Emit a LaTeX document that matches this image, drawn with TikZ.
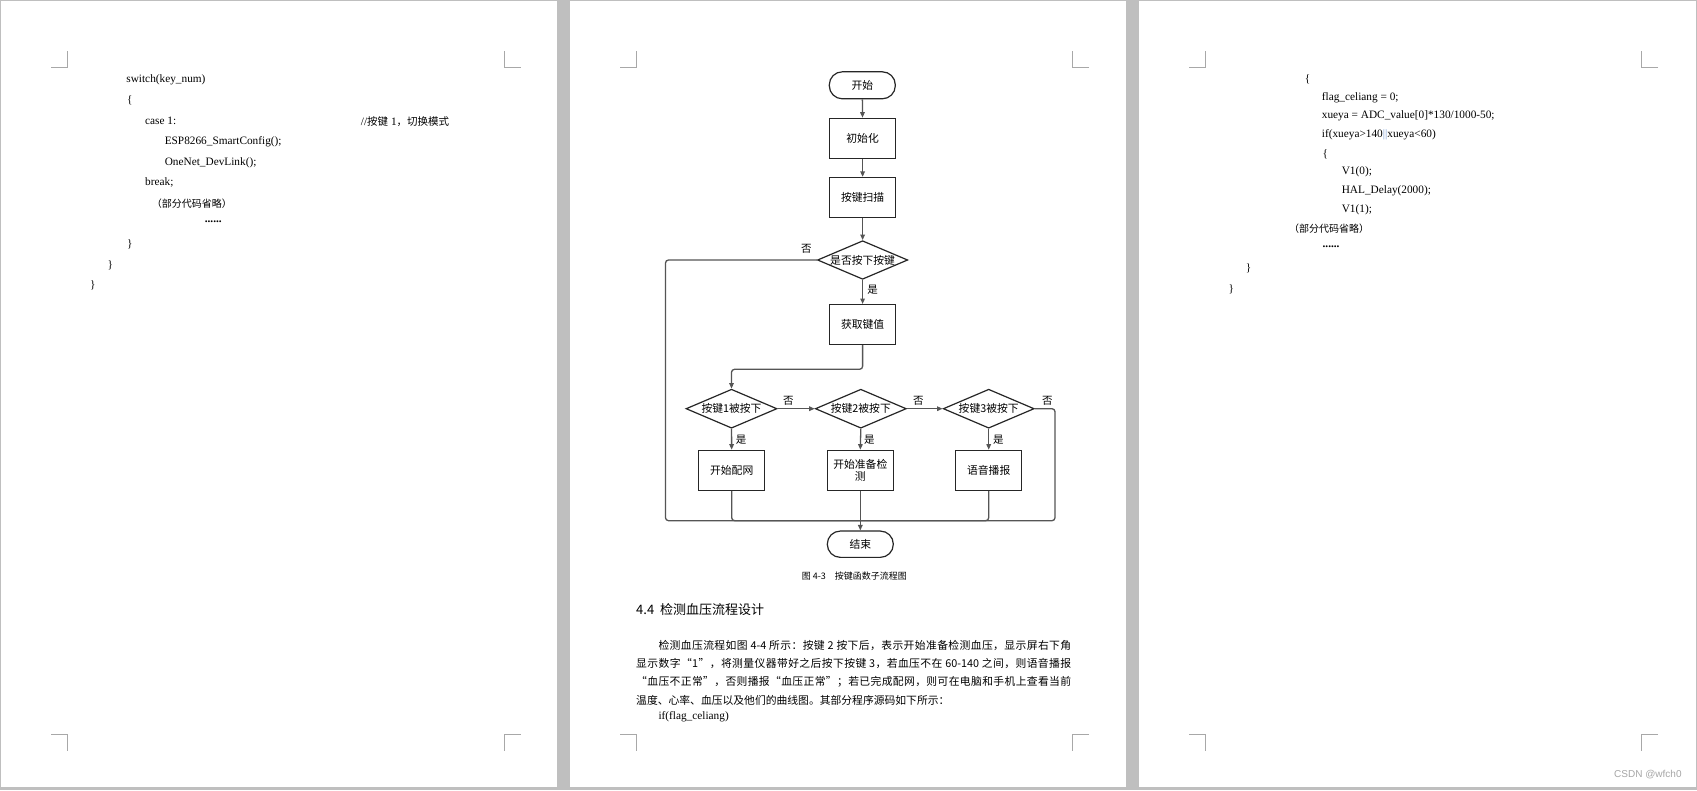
\documentclass[tikz,border=0pt]{standalone}
\usepackage{fontspec}
\setmainfont{Liberation Serif}
\newfontfamily\cjk{Noto Sans CJK SC}
\newfontfamily\wmfont{Liberation Sans}
\usetikzlibrary{shapes.geometric,arrows.meta}
\makeatletter
\count@="3000
\loop
  \XeTeXcharclass\count@=7
  \advance\count@ by 1
\ifnum\count@<"A000 \repeat
\count@="FF00
\loop
  \XeTeXcharclass\count@=7
  \advance\count@ by 1
\ifnum\count@<"FFF0 \repeat
\makeatother
\XeTeXcharclass"201C=7
\XeTeXcharclass"201D=7
\XeTeXinterchartoks 7 7 = {\hskip 0pt plus 1pt\relax}
\XeTeXinterchartoks 0 7 = {\hskip 0pt plus 1pt\relax}
\XeTeXinterchartoks 7 0 = {\hskip 0pt plus 1pt\relax}
\newcommand\mystretchon{\XeTeXinterchartokenstate=1\relax}
\definecolor{bggray}{HTML}{BFBFBF}
\definecolor{markgray}{HTML}{A8A8A8}
\definecolor{linegray}{HTML}{555555}
\definecolor{boxc}{HTML}{262626}
\definecolor{wmgray}{HTML}{A6A6A6}
\definecolor{selblue}{HTML}{7A9FD6}
\tikzset{
  cornermark/.style={draw=markgray, line width=0.8pt},
  codetxt/.style={anchor=west, inner sep=0pt, font=\fontsize{11.3}{13}\selectfont},
  codedots/.style={anchor=base west, inner sep=0pt, font=\bfseries\fontsize{11.3}{13}\selectfont},
  codecn/.style={anchor=west, inner sep=0pt, font=\cjk\fontsize{10}{12}\selectfont},
  paratxt/.style={anchor=west, inner sep=0pt, font=\cjk\fontsize{10.8}{13}\selectfont\mystretchon},
  proc/.style={draw=boxc, line width=1.2pt, minimum width=66pt, minimum height=40pt, inner sep=1pt,
    font=\cjk\fontsize{10.8}{12}\selectfont, align=center},
  term/.style={draw=boxc, line width=1.2pt, rounded corners=13pt, minimum width=66pt, minimum height=27pt,
    inner sep=1pt, font=\cjk\fontsize{10.8}{12}\selectfont},
  dec/.style={diamond, draw=boxc, line width=1.2pt, inner sep=0pt, minimum width=91pt, minimum height=39pt},
  declbl/.style={font=\cjk\fontsize{10.8}{12}\selectfont, inner sep=0pt},
  lbl/.style={font=\cjk\fontsize{10.5}{12}\selectfont, inner sep=0pt},
  conn/.style={draw=linegray, line width=1.3pt, rounded corners=3pt},
  arr/.style={conn, -{Triangle[length=5.5pt,width=4.5pt]}},
}
\begin{document}
\begin{tikzpicture}[x=1pt,y=-1pt]
\useasboundingbox (0,0) rectangle (1697,790);
\fill[bggray] (0,0) rectangle (1697,790);
\fill[white] (1,1) rectangle (557.3,787);
\fill[white] (570,1) rectangle (1126,787);
\fill[white] (1139,1) rectangle (1696,787);
% corner marks
\foreach \l/\r in {67.5/504.3, 636.8/1072.6, 1205.6/1641.6} {
  \draw[cornermark] (\l-16.5,67.5) -- (\l,67.5) -- (\l,51);
  \draw[cornermark] (\r+16.5,67.5) -- (\r,67.5) -- (\r,51);
  \draw[cornermark] (\l-16.5,734.3) -- (\l,734.3) -- (\l,751);
  \draw[cornermark] (\r+16.5,734.3) -- (\r,734.3) -- (\r,751);
}
% ---------- page 1 code ----------
\node[codetxt] (p1a) at (126.2,79.3) {switch(key\_num)};
\node[codetxt] (p1b) at (126.9,100.7) {\{};
\node[codetxt] (p1c) at (145,121.3) {case 1:};
\node[codetxt] (p1d) at (360.7,121.3) {//{\cjk\fontsize{10.5}{12}\selectfont 按键} 1{\cjk\fontsize{10.5}{12}\selectfont ，切换模式}};
\node[codetxt] (p1e) at (164.6,141.7) {ESP8266\_SmartConfig();};
\node[codetxt] (p1f) at (164.6,162.3) {OneNet\_DevLink();};
\node[codetxt] (p1g) at (145,182.3) {break;};
\node[codecn] (p1h) at (151.7,203.9) {（部分代码省略）};
\node[codedots] (p1i) at (204.6,222.5) {......};
\node[codetxt] (p1j) at (126.9,244.3) {\}};
\node[codetxt] (p1k) at (107.3,265) {\}};
\node[codetxt] (p1l) at (89.9,285.7) {\}};
% ---------- page 3 code ----------
\node[codetxt] (p3a) at (1304.7,79.3) {\{};
\node[codetxt] (p3b) at (1321.7,97.7) {flag\_celiang = 0;};
\node[codetxt] (p3c) at (1321.7,116) {xueya = ADC\_value[0]*130/1000-50;};
\node[codetxt] (p3d) at (1321.7,135) {if(xueya>140\textcolor{selblue}{||}xueya<60)};
\node[codetxt] (p3e) at (1322.5,154) {\{};
\node[codetxt] (p3f) at (1341.6,171.7) {V1(0);};
\node[codetxt] (p3g) at (1341.6,190.7) {HAL\_Delay(2000);};
\node[codetxt] (p3h) at (1341.6,210) {V1(1);};
\node[codecn] (p3i) at (1289,228.9) {（部分代码省略）};
\node[codedots] (p3j) at (1322.4,247.5) {......};
\node[codetxt] (p3k) at (1245.7,268.7) {\}};
\node[codetxt] (p3l) at (1228.4,289.3) {\}};
% ---------- page 2 flowchart ----------
\node[term] (st) at (862.3,85.3) {开始};
\node[proc] (init) at (862.6,138.3) {初始化};
\node[proc] (scan) at (862.6,197.5) {按键扫描};
\node[dec, minimum width=90.3pt, minimum height=38.6pt, label={[declbl]center:是否按下按键}] (d0) at (862.6,260) {};
\node[proc] (get) at (862.6,324.6) {获取键值};
\node[dec, label={[declbl]center:按键1被按下}] (d1) at (731.5,408.7) {};
\node[dec, label={[declbl]center:按键2被按下}] (d2) at (860.8,408.7) {};
\node[dec, label={[declbl]center:按键3被按下}] (d3) at (988.7,408.7) {};
\node[proc] (b1) at (731.7,470.3) {开始配网};
\node[proc] (b2) at (860.3,470.3) {开始准备检\\测};
\node[proc] (b3) at (988.7,470.3) {语音播报};
\node[term, minimum height=26.3pt] (fin) at (860.3,544.2) {结束};
\coordinate (j1) at (862.6,369.3);
\coordinate (m) at (860.3,520.7);
\coordinate (rl) at (1055,408.7);
\coordinate (ll) at (665.5,260);
\draw[arr] (st) -- (init);
\draw[arr] (init) -- (scan);
\draw[arr] (scan) -- (d0);
\draw[arr] (d0) -- (get);
\draw[arr] (get.south) -- (j1) -| (d1.north);
\draw[arr] (d1) -- (d2);
\draw[arr] (d2) -- (d3);
\draw[arr] (d1) -- (b1);
\draw[arr] (d2.south) -- (b2.north);
\draw[arr] (d3) -- (b3);
\draw[conn] (d0.west) -- (ll) |- (m);
\draw[conn] (d3.east) -- (rl) |- (m);
\draw[conn] (b1.south) |- (m);
\draw[conn] (b3.south) |- (m);
\draw[arr] (b2.south) -- (fin.north);
\node[lbl] (n0) at (806.4,249.3) {否};
\node[lbl] (y0) at (872.5,289.3) {是};
\node[lbl] (n1) at (788.3,400.7) {否};
\node[lbl] (n2) at (918.3,400.7) {否};
\node[lbl] (n3) at (1047.3,400.7) {否};
\node[lbl] (y1) at (741,439.3) {是};
\node[lbl] (y2) at (869.3,439.3) {是};
\node[lbl] (y3) at (998.3,439.3) {是};
% ---------- page 2 text ----------
\node[inner sep=0pt, font=\cjk\fontsize{9}{11}\selectfont] (cap) at (854.4,576) {图 4-3　按键函数子流程图};
\node[anchor=west, inner sep=0pt, font=\cjk\fontsize{13}{15}\selectfont] (hd) at (636,609.3) {4.4\ \ 检测血压流程设计};
\node[paratxt] (l1) at (658.3,645.8) {\makebox[412.7pt][s]{检测血压流程如图 4-4 所示：按键 2 按下后，表示开始准备检测血压，显示屏右下角}};
\node[paratxt] (l2) at (636,663.5) {\makebox[435pt][s]{显示数字“1”，将测量仪器带好之后按下按键 3，若血压不在 60-140 之间，则语音播报}};
\node[paratxt] (l3) at (636,681.8) {\makebox[435pt][s]{“血压不正常”，否则播报“血压正常”；若已完成配网，则可在电脑和手机上查看当前}};
\node[paratxt] (l4) at (636,700.8) {温度、心率、血压以及他们的曲线图。其部分程序源码如下所示：};
\node[codetxt] (l5) at (658.3,716.7) {if(flag\_celiang)};
% watermark
\node[anchor=west, inner sep=0pt, text=wmgray, font=\wmfont\fontsize{10}{12}\selectfont] (wm) at (1614,775) {CSDN @wfch0};
\end{tikzpicture}
\end{document}
